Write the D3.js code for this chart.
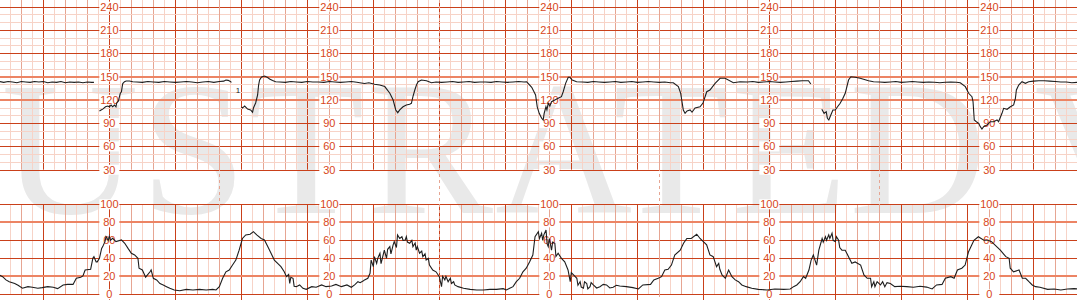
<!DOCTYPE html>
<html>
<head>
<meta charset="utf-8">
<script src="https://cdn.jsdelivr.net/npm/d3@7"></script>
<style>
  html, body { margin: 0; padding: 0; background: #fff; }
  svg { display: block; }
</style>
</head>
<body>
<svg id="strip" width="1077" height="300"></svg>
<script>
// axis labels and where they are repeated along the strip (seconds)
const fhrLabels = [240, 210, 180, 150, 120, 90, 60, 30];
const ucLabels = [100, 80, 60, 40, 20, 0];
const labelTimes = [120, 320, 520, 720, 920];
const markerTimes = [220, 420, 620, 820];
const fhrBand = [120, 150];
const ucBand = [20, 80];

// fetal heart rate, [seconds, bpm], one array per stretch of signal
const fhrSegments = [
  [[20,143.5],[24,142.5],[28,143.5],[32,143],[36,142],[40,143.5],[44,143],[48,142.5],[52,143.5],[56,143],[60,143.5],[64,142],[68,143],[72,142.5],[76,143.5],[80,142],[84,143],[88,142.5],[92,143],[96,142],[100,143],[104,142.5],[106,142.5]],
  [[111,105.6],[112.5,106.9],[114,108],[116.5,111],[118.5,112],[120,111],[121.6,113.3],[123,111],[124.6,113.3],[126,111],[126.7,116],[128.3,118.5],[129.2,124],[130,128.4],[131,130.4],[131.7,137],[132.2,141],[133.8,143.3],[135.3,144.2],[138.3,144.2],[141.3,143.3],
   [145,143],[150,142.5],[155,143.5],[160,143],[165,142.5],[170,143.5],[175,143],[180,142.5],[185,143],[190,143.5],[195,143],[200,142],[205,143],[210,143.5],[215,142.5],[220,143.5],[224,144],[226,145.5],[228,145],[230,143.5],[231,142.5]],
  [[240.2,111],[241,109.4],[243,112],[245.7,108],[248.4,107],[250.2,104],[251,109.4],[253,115.9],[254.8,126.2],[255.7,139],[256.6,145.5],[258.4,149.4],[261.2,150.6],[263.9,148.7],[265.7,146.8],[268.4,144.8],[271.2,143.3],
   [275,143],[280,142.5],[285,143.5],[290,143],[295,142.5],[300,143.5],[305,143],[310,143],[315,142.5],[320,143.5],[325,143],[330,142.5],[335,143],[340,143.5],[345,142.5],[347.6,142],[352,141],[356,142],[361,140],[365.8,139],[370.4,137],
   [375,128.4],[378,119.7],[380.4,106.9],[382.2,103.4],[384,106.9],[387,111],[390,113.3],[393,114.3],[394.6,115.5],[396,124],[397.7,132.6],[399.2,139],[400.7,143.3],[403.7,145.5],[408.3,144.6],[412.8,142],
   [417,143],[422,142.5],[427,143],[432,143.5],[437,142.5],[442,143],[447,143.5],[452,142.5],[457,143],[462,143],[467,142.5],[472,143.5],[477,143],[482,142.5],[487,143],[492,143.5],[497,143],[499.3,143.3],
   [500.5,141.6],[504,136],[507.5,126.2],[509,111],[510.8,102.6],[513,96.2],[514.4,94],[515.3,102.6],[516.9,111],[517.8,107],[519,115.5],[520.5,112],[522,117.5],[525,119.7],[528,121.9],[531,124],[532.6,130.4],[534.8,141.2],[537.2,149],[538.7,149],[540.8,145.5],[544.8,143.3],
   [550,143],[555,142.5],[560,143.5],[565,143],[570,142.5],[575,143],[580,143.5],[585,142.5],[590,143],[595,143.5],[600,142.5],[605,143],[610,143.5],[615,143],[620,142.5],[625,143],[630,142],[632.7,142],
   [637.3,136.9],[639.4,128.4],[641.8,106.9],[643.4,102.6],[645.2,105.6],[648,106.9],[649.7,104],[652.5,109.4],[657,111],[659.7,115.9],[663.1,130.4],[666,132.6],[670.7,141.2],[675.2,147.7],[679.8,147.7],[687.3,142],[693.4,143.3],
   [700,143],[705,143.5],[710,142.5],[715,143],[720,143.5],[725,143],[730,142.5],[735,143],[740,143.5],[745,144],[750,144.5],[755.6,144.6],[757.7,140.3]],
  [[767.7,107.8],[769.8,102.6],[771.7,104.7],[772.8,96.2],[774.1,94],[775.9,100.4],[777.8,106.9],[779.9,106.9],[782,111],[784.4,115.5],[786.9,121.9],[789,128.4],[792,145.5],[794.1,149.7],[798,149],[802.6,147.7],[810.2,144.6],[814.7,143.3],
   [820,143],[825,142.5],[830,143],[835,143.5],[840,142.5],[845,143],[850,143.5],[855,143],[860,142.5],[865,143],[870,142.5],[875,142],[880,142.5],[885,143],[890,142.5],[893.6,142],
   [898.2,136.9],[901.2,128.4],[904.2,124],[905.2,117.5],[906.3,94],[908.2,91.8],[910.3,89.7],[911.8,85.4],[913.3,82.4],[914.8,85.4],[917.9,87.6],[920.9,91.8],[923.9,91.8],[927,94],[928.4,91.8],[931.5,102.6],[933,109],[936.1,107.8],[939.1,111],[942.1,113.3],[943.7,121.9],[944.6,132.6],[946.7,139],[949.7,143.3],[952.8,141.2],[955.8,143.3],
   [960,144],[965,144.5],[970,144.5],[975,144],[980,143.5],[985,143],[990,143],[995,142],[999.7,142.5]]
];

// uterine activity, [seconds, value]
const ucTrace = [
  [20,21.5],[23,19.6],[26,16],[29,14],[34,12],[37,10],[41,6.7],[46,8.5],[50,7.8],[55,6.7],[59,7.4],[64,8.5],[69,7.8],[73,6.3],[78,10.4],[82,11],[87,11],[90,17.8],[94,19],[96,20.4],[98,27],[103,27.8],[105,40],[106,41.8],[108,36],[109,36],[111,40],[113,51],[114,53],[116,58.5],[117,64],[119,60],[120,64.7],[121,60],[123,62.2],[126,58.5],[131,60.4],[134,56.7],[137,51],[140,45.6],[143,43.7],[146,40],[147,29],[150,27],[153,19],[157,25],[158,27],[160,17.8],[163,16],[166,12],[169,10.4],[172,8.5],[175,6.7],[179,4.8],[184,4],[190,5.5],[196,4.8],[202,5.5],[208,4.8],[214,5.5],[217,4.8],
  [220,8.5],[223,17.8],[226,25],[229,27],[232,32.5],[235,38],[238,49],[241,62],[244,66],[248,66.7],[251,69.6],[254,66],[258,62],[261,60.4],[264,53],[267,45.6],[270,38],[273,34.4],[276,30.7],[279,25],[281,19.6],[283,22],[284,12],[285,19],[287,17.8],[288,9],[290,8.5],[293,10.4],[296,6.7],[299,5.5],[304,8.5],[308,7.8],[313,10.4],[317,8.5],[322,9.3],[326,11],[331,8.5],[336,10.4],[340,7.8],[343,10.4],[346,14],
  [348,12.9],[351,15],[352,16],[355,17.8],[357,23.3],[358,38],[360,30.7],[361,41.8],[363,34.4],[364,40],[366,45.6],[367,34],[369,44],[370,49],[372,40],[373,50],[375,53],[376,45],[378,55],[379,58.5],[381,52],[382,66],[384,62],[386,64],[387,60],[389,60.4],[390,64],[391,58],[393,56.7],[395,60],[396,53],[398,57],[399,49],[400,53],[402,45.6],[404,48],[405,41.8],[407,45],[408,38],[410,40],[411,32.5],[414,27],[417,25],[420,19.6],[422,8.5],[423,20],[425,16],[426,20],[428,14],[430,17.8],[431,12],[433,14],[434,10.4],[437,8.5],[442,6.7],[448,5.5],[454,4.8],[460,4.8],[466,5.5],[472,5.5],[478,6.3],[481,4.8],[484,6.7],[487,8.5],[490,14],[493,17.8],[496,25],[499,29],[502,36],[505,43.7],
  [507,64],[510,69.6],[511,62],[513,67.8],[514,60],[515,66],[517,71.5],[518,56],[519,53],[520,62],[522,49],[523,58],[525,56.7],[526,42],[528,45.6],[531,40],[534,36],[537,27],[539,14],[540,24],[542,21.5],[545,17.8],[546,10],[548,14],[549,8],[551,6.7],[552,14],[554,12],[555,6],[557,8.5],[558,13],[560,10.4],[563,7],[566,8.5],[569,11],[572,10.4],[575,7],[578,7.8],[581,10],[584,9.3],[590,8.5],[596,7.4],[601,5.9],[605,10.4],[612,11],[615,16],[619,17.8],[622,19.6],[625,27],[628,27.8],[631,32.5],[634,43.7],[639,49],[642,56.7],[645,62],[649,62],[654,66.7],[657,62],[660,58.5],[663,55],[666,43.7],[669,41.8],[672,30.7],[674,34.4],[675,27.8],
  [677,21.5],[680,17.8],[683,27],[686,19.6],[689,16],[692,14],[695,10.4],[699,8.5],[704,6.7],[710,5.5],[718,4.8],[725,5.9],[733,5.5],[739,5.9],[742,8.5],[745,10.4],[748,14],[751,19.6],[753,17.8],[756,27],[758,38],[760,43.7],[763,32.5],[765,49],[768,62],[769,58],[771,64],[772,60],[774,66],[775,62],[777,67.8],[778,60],[780,58.5],[781,64],[783,60],[784,52],[786,49],[789,49],[792,41.8],[795,34.4],[798,36],[803,32.5],[806,21.5],[809,17.8],[812,17.8],[813,8.5],[815,14],[816,8.5],[818,14],[821,10.4],[823,14],[825,8.5],[827,13],[830,12],[834,8.5],[839,9],[845,8.5],[851,7.8],[857,9],[863,8],[868,5.9],[872,10.4],[877,11],[880,17.8],[885,19.6],[888,17.8],[891,27],[895,29],[898,32.5],[901,47],[906,60],[910,64],[915,60],[919,60],[922,58.5],[925,55],[930,49],[935,41.8],[938,40],[939,29],[942,25],[947,27],[950,17.8],[953,17.8],[956,14],[959,10.4],[962,8.5],[966,7.8],[973,5.5],[979,5.9],[985,4.8],[991,5.9],[997,6.3],[999.7,6]
];

const events = [{ t: 235, bpm: 132.6, text: "1" }];

const width = 1077;
const height = 300;
const gridDark = "#c9401a";
const gridMid = "#e6a592";
const gridLight = "#f7d3c7";
const bandColor = "#ec8464";
const labelColor = "#d8461a";

const svg = d3.select("#strip");

const x = d3.scaleLinear().domain([20.6, 999.7]).range([0, width]);
const yFhr = d3.scaleLinear().domain([30, 240]).range([169.7, 6.6]);
const yUc = d3.scaleLinear().domain([0, 100]).range([294.3, 204.3]);

// watermark behind everything
svg.append("text")
  .attr("x", -300)
  .attr("y", 213)
  .attr("font-family", "Liberation Serif, DejaVu Serif, serif")
  .attr("font-size", 190)
  .attr("letter-spacing", 2)
  .attr("fill", "#e9e9e9")
  .text("ILLUSTRATED VERSION");

function drawPanel(y, minor, major, band, top, bottom) {
  const g = svg.append("g");
  const [lo, hi] = y.domain();
  const seconds = d3.range(30, 1000, 10);

  // vertical lines: light every 10 s, medium every 20 s, dark every minute
  g.selectAll("line.v")
    .data(seconds)
    .join("line")
    .attr("class", "v")
    .attr("x1", (d) => Math.round(x(d)) + 0.5)
    .attr("x2", (d) => Math.round(x(d)) + 0.5)
    .attr("y1", top)
    .attr("y2", (d) => (d % 60 === 0 && bottom > 290 ? height : bottom))
    .attr("stroke", (d) => (d % 60 === 0 ? gridDark : d % 20 === 0 ? gridMid : gridLight))
    .attr("stroke-width", 1);

  const levels = d3.range(lo, hi + 0.1, minor);
  g.selectAll("line.h")
    .data(levels)
    .join("line")
    .attr("class", "h")
    .attr("x1", 0)
    .attr("x2", width)
    .attr("y1", (d) => Math.round(y(d)) + (band.includes(d) ? 0 : 0.5))
    .attr("y2", (d) => Math.round(y(d)) + (band.includes(d) ? 0 : 0.5))
    .attr("stroke", (d) => (band.includes(d) ? bandColor : d % major === 0 ? gridDark : gridLight))
    .attr("stroke-width", (d) => (band.includes(d) ? 2 : 1));
  return g;
}

drawPanel(yFhr, 10, 30, fhrBand, 0, yFhr(30));
drawPanel(yUc, 20, 20, ucBand, yUc(100), yUc(0));

// paper markers every 200 s
svg.selectAll("line.marker")
  .data(markerTimes)
  .join("line")
  .attr("class", "marker")
  .attr("x1", (d) => Math.round(x(d)) + 0.5)
  .attr("x2", (d) => Math.round(x(d)) + 0.5)
  .attr("y1", 0)
  .attr("y2", height)
  .attr("stroke", gridMid)
  .attr("stroke-dasharray", "3,3");

function drawLabels(values, y) {
  const cells = [];
  for (const t of labelTimes) {
    for (const v of values) {
      cells.push({ t, v });
    }
  }
  const g = svg.append("g");
  g.selectAll("rect")
    .data(cells)
    .join("rect")
    .attr("x", (d) => x(d.t) - 10)
    .attr("y", (d) => y(d.v) - 5)
    .attr("width", 20)
    .attr("height", 10)
    .attr("fill", "#fff");
  g.selectAll("text")
    .data(cells)
    .join("text")
    .attr("x", (d) => x(d.t))
    .attr("y", (d) => y(d.v) + 4)
    .attr("text-anchor", "middle")
    .attr("font-family", "Liberation Sans, Arial, sans-serif")
    .attr("font-size", 11)
    .attr("fill", labelColor)
    .text((d) => d.v);
}

drawLabels(fhrLabels, yFhr);
drawLabels(ucLabels, yUc);

const fhrLine = d3.line()
  .x((d) => x(d[0]))
  .y((d) => yFhr(d[1]));

svg.selectAll("path.fhr")
  .data(fhrSegments)
  .join("path")
  .attr("class", "fhr")
  .attr("d", fhrLine)
  .attr("fill", "none")
  .attr("stroke", "#1e1e1e")
  .attr("stroke-width", 1.1);

const ucLine = d3.line()
  .x((d) => x(d[0]))
  .y((d) => yUc(d[1]));

svg.append("path")
  .datum(ucTrace)
  .attr("d", ucLine)
  .attr("fill", "none")
  .attr("stroke", "#1e1e1e")
  .attr("stroke-width", 1.1);

svg.selectAll("text.event")
  .data(events)
  .join("text")
  .attr("class", "event")
  .attr("x", (d) => x(d.t))
  .attr("y", (d) => yFhr(d.bpm) + 3)
  .attr("font-family", "Liberation Sans, Arial, sans-serif")
  .attr("font-size", 8)
  .attr("fill", "#222")
  .text((d) => d.text);
</script>
</body>
</html>
